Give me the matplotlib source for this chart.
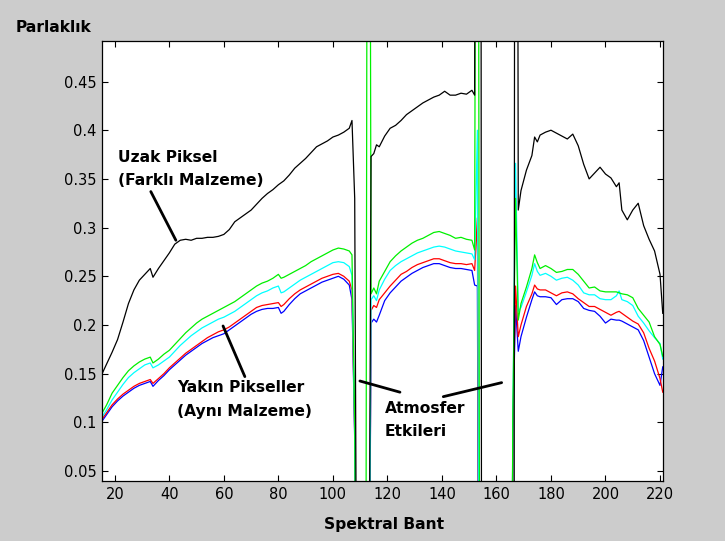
import numpy as np
import matplotlib
matplotlib.use("Agg")
import matplotlib.pyplot as plt

# ─────────────────────────────────────────────
# Data
# ─────────────────────────────────────────────
bands = [
    15, 17, 19, 21, 23, 25, 27, 29, 31, 33, 34, 36, 38, 40, 42, 44, 46, 48, 50, 52,
    54, 56, 58, 60, 62, 64, 66, 68, 70, 72, 74, 76, 78, 80, 81, 82, 84, 86, 88, 90,
    92, 94, 96, 98, 100, 102, 104, 106, 107,
    108, 109, 112, 113,
    114, 115, 116, 117, 119, 121, 123, 125, 127, 129, 131, 133, 135, 137, 139, 141,
    143, 145, 147, 149, 151, 152,
    153, 154, 155, 165, 166, 167,
    168, 169, 171, 173, 174, 175, 176, 178, 180, 182, 184, 186, 188, 190, 192, 194,
    196, 198, 200, 202, 204, 205, 206, 208, 210, 212, 214, 216, 218, 220, 221,
]

# uzak piksel (farkli malzeme)
far_pixel = [
    0.148, 0.160, 0.172, 0.185, 0.203, 0.222, 0.236, 0.246, 0.252, 0.258, 0.249, 0.258,
    0.266, 0.274, 0.283, 0.287, 0.288, 0.287, 0.289, 0.289, 0.290, 0.290, 0.291, 0.293,
    0.298, 0.306, 0.310, 0.314, 0.318, 0.324, 0.330, 0.335, 0.339, 0.344, 0.346, 0.348,
    0.354, 0.361, 0.366, 0.371, 0.377, 0.383, 0.386, 0.389, 0.393, 0.395, 0.398, 0.402,
    0.410,
    0.33, -0.3, -0.3, -0.3,
    0.373, 0.376, 0.385, 0.383, 0.394, 0.402, 0.405, 0.410, 0.416, 0.420, 0.424, 0.428,
    0.431, 0.434, 0.436, 0.440, 0.436, 0.436, 0.438, 0.437, 0.441, 0.436,
    2.0, 2.0, -2.0, -2.0, -2.0, 2.0,
    0.318, 0.338, 0.359, 0.374, 0.393, 0.388, 0.395, 0.398, 0.400, 0.397, 0.394, 0.391,
    0.396, 0.384, 0.365, 0.350, 0.356, 0.362, 0.355, 0.351, 0.342, 0.346, 0.318, 0.308,
    0.318, 0.325, 0.302, 0.288, 0.276, 0.252, 0.212,
]

# yakin pikseller (ayni malzeme)
near_green = [
    0.108, 0.118, 0.130, 0.138, 0.146, 0.153, 0.158, 0.162, 0.165, 0.167, 0.161, 0.165,
    0.170, 0.174, 0.180, 0.186, 0.192, 0.197, 0.202, 0.206, 0.209, 0.212, 0.215, 0.218,
    0.221, 0.224, 0.228, 0.232, 0.236, 0.240, 0.243, 0.245, 0.248, 0.252, 0.248, 0.249,
    0.252, 0.255, 0.258, 0.261, 0.265, 0.268, 0.271, 0.274, 0.277, 0.279, 0.278, 0.276,
    0.272,
    0.10, -0.3, -0.3, 1.5,
    0.232, 0.238, 0.232, 0.245, 0.255, 0.265, 0.271, 0.276, 0.280, 0.284, 0.287, 0.289,
    0.292, 0.295, 0.296, 0.294, 0.292, 0.289, 0.290, 0.288, 0.287, 0.277,
    1.5, -0.5, -0.5, -0.5, 0.105, 0.33,
    0.205, 0.222, 0.239, 0.258, 0.272, 0.264, 0.258, 0.261, 0.258, 0.254, 0.255, 0.257,
    0.257, 0.252, 0.245, 0.238, 0.239, 0.235, 0.234, 0.234, 0.234, 0.233, 0.232, 0.231,
    0.228, 0.217, 0.210, 0.203, 0.188, 0.180, 0.168,
]

near_cyan = [
    0.104, 0.113, 0.123, 0.131, 0.139, 0.146, 0.151, 0.155, 0.159, 0.161, 0.156, 0.159,
    0.163, 0.167, 0.173, 0.179, 0.184, 0.189, 0.193, 0.197, 0.200, 0.203, 0.206, 0.208,
    0.211, 0.214, 0.218, 0.222, 0.226, 0.230, 0.233, 0.235, 0.238, 0.240, 0.233, 0.234,
    0.238, 0.242, 0.246, 0.249, 0.252, 0.255, 0.258, 0.261, 0.264, 0.265, 0.264, 0.260,
    0.251,
    0.09, -0.3, -0.3, -0.3,
    0.226, 0.230, 0.225, 0.236, 0.247, 0.256, 0.261, 0.265, 0.268, 0.271, 0.274, 0.276,
    0.278, 0.280, 0.281, 0.280, 0.278, 0.276, 0.275, 0.274, 0.273, 0.267,
    0.40, -0.5, -0.5, -0.5, 0.10, 0.366,
    0.214, 0.218, 0.234, 0.251, 0.263, 0.255, 0.251, 0.253, 0.250, 0.246, 0.248, 0.249,
    0.246, 0.241, 0.233, 0.231, 0.231, 0.227, 0.226, 0.226, 0.230, 0.235, 0.226, 0.224,
    0.220, 0.209, 0.202, 0.194, 0.187, 0.181, 0.165,
]

near_red = [
    0.102, 0.110, 0.118, 0.124, 0.129, 0.133, 0.137, 0.140, 0.142, 0.144, 0.140, 0.145,
    0.150, 0.156, 0.161, 0.166, 0.171, 0.175, 0.179, 0.183, 0.187, 0.190, 0.193, 0.195,
    0.198, 0.202, 0.206, 0.210, 0.214, 0.218, 0.220, 0.221, 0.222, 0.223, 0.219, 0.221,
    0.227, 0.232, 0.236, 0.239, 0.242, 0.245, 0.248, 0.250, 0.252, 0.253, 0.250, 0.245,
    0.236,
    0.088, -0.3, -0.3, -0.3,
    0.215, 0.220, 0.218, 0.226, 0.233, 0.240, 0.246, 0.252, 0.255, 0.259, 0.262, 0.264,
    0.266, 0.268, 0.268, 0.266, 0.264, 0.263, 0.263, 0.262, 0.263, 0.256,
    0.31, -0.5, -0.5, -0.5, 0.095, 0.24,
    0.188, 0.200, 0.219, 0.232, 0.241, 0.237, 0.236, 0.236, 0.233, 0.230, 0.233, 0.234,
    0.232, 0.227, 0.223, 0.219, 0.219, 0.216, 0.213, 0.210, 0.213, 0.214, 0.212, 0.208,
    0.204, 0.201, 0.192, 0.176, 0.163, 0.145, 0.131,
]

near_blue = [
    0.100, 0.108, 0.116, 0.122, 0.127, 0.131, 0.135, 0.138, 0.140, 0.142, 0.137, 0.143,
    0.148, 0.154, 0.159, 0.164, 0.169, 0.173, 0.177, 0.181, 0.184, 0.187, 0.189, 0.191,
    0.195, 0.199, 0.203, 0.207, 0.211, 0.214, 0.216, 0.217, 0.217, 0.218, 0.212, 0.214,
    0.221, 0.227, 0.232, 0.235, 0.238, 0.241, 0.244, 0.246, 0.248, 0.250, 0.247, 0.241,
    0.226,
    0.082, -0.3, -0.3, -0.3,
    0.202, 0.206, 0.203, 0.210, 0.225, 0.233, 0.239, 0.245, 0.249, 0.253, 0.256, 0.259,
    0.261, 0.263, 0.263, 0.261, 0.259, 0.258, 0.258, 0.257, 0.256, 0.241,
    0.24, -0.5, -0.5, -0.5, 0.09, 0.22,
    0.173, 0.188, 0.208, 0.226, 0.234, 0.230, 0.229, 0.229, 0.228, 0.221, 0.226, 0.227,
    0.227, 0.224, 0.217, 0.215, 0.214, 0.209, 0.202, 0.206, 0.205, 0.205, 0.204, 0.201,
    0.198, 0.195, 0.184, 0.167, 0.150, 0.138, 0.157,
]

x_ticks = [20, 40, 60, 80, 100, 120, 140, 160, 180, 200, 220]
y_ticks = [0.05, 0.1, 0.15, 0.2, 0.25, 0.3, 0.35, 0.4, 0.45]
y_tick_labels = ["0.05", "0.1", "0.15", "0.2", "0.25", "0.3", "0.35", "0.4", "0.45"]

# ─────────────────────────────────────────────
# Figure
# ─────────────────────────────────────────────
BG = "#cccccc"
LABEL_FONT = dict(family="DejaVu Sans", fontsize=11.2, fontweight="bold")

fig = plt.figure(figsize=(7.25, 5.41), dpi=100, facecolor=BG)
ax = fig.add_axes([0.1407, 0.1109, 0.7738, 0.8133])
ax.set_facecolor("white")

lw = 0.9
ax.plot(bands, near_blue, color="#0000ff", lw=lw)
ax.plot(bands, near_red, color="#ff0000", lw=lw)
ax.plot(bands, near_cyan, color="#00ffff", lw=lw)
ax.plot(bands, near_green, color="#00f000", lw=lw)
ax.plot(bands, far_pixel, color="black", lw=lw)

ax.set_xlim(15.3, 221.1)
ax.set_ylim(0.0398, 0.4916)
ax.set_xticks(x_ticks)
ax.set_yticks(y_ticks)
ax.set_yticklabels(y_tick_labels)
ax.tick_params(direction="in", length=4, width=0.8, top=True, right=True,
               labelsize=10.5, pad=4, colors="black")
for lab in ax.get_xticklabels() + ax.get_yticklabels():
    lab.set_family("DejaVu Sans")
for sp in ax.spines.values():
    sp.set_linewidth(0.9)

# Label sumbu
fig.text(16 / 725, 1 - 27 / 541, "Parlaklık", ha="left", va="center", **LABEL_FONT)
fig.text(384 / 725, 1 - 524 / 541, "Spektral Bant", ha="center", va="center", **LABEL_FONT)

# Anotasi
line_kw = dict(arrowstyle="-", lw=2.0, color="black", shrinkA=0, shrinkB=0)
text_kw = dict(ha="left", va="top", linespacing=1.7, **LABEL_FONT)

ax.text(21.0, 0.380, "Uzak Piksel\n(Farklı Malzeme)", **text_kw)
ax.annotate("", xy=(42.4, 0.287), xytext=(33.2, 0.337), arrowprops=line_kw)

ax.text(42.9, 0.143, "Yakın Pikseller\n(Aynı Malzeme)", **text_kw)
ax.annotate("", xy=(59.7, 0.199), xytext=(67.7, 0.147), arrowprops=line_kw)

ax.text(119.1, 0.122, "Atmosfer\nEtkileri", **text_kw)
ax.annotate("", xy=(109.9, 0.1425), xytext=(124.6, 0.131), arrowprops=line_kw)
ax.annotate("", xy=(161.9, 0.1408), xytext=(140.5, 0.1264), arrowprops=line_kw)

fig.savefig("out.png", dpi=100, facecolor=BG)
